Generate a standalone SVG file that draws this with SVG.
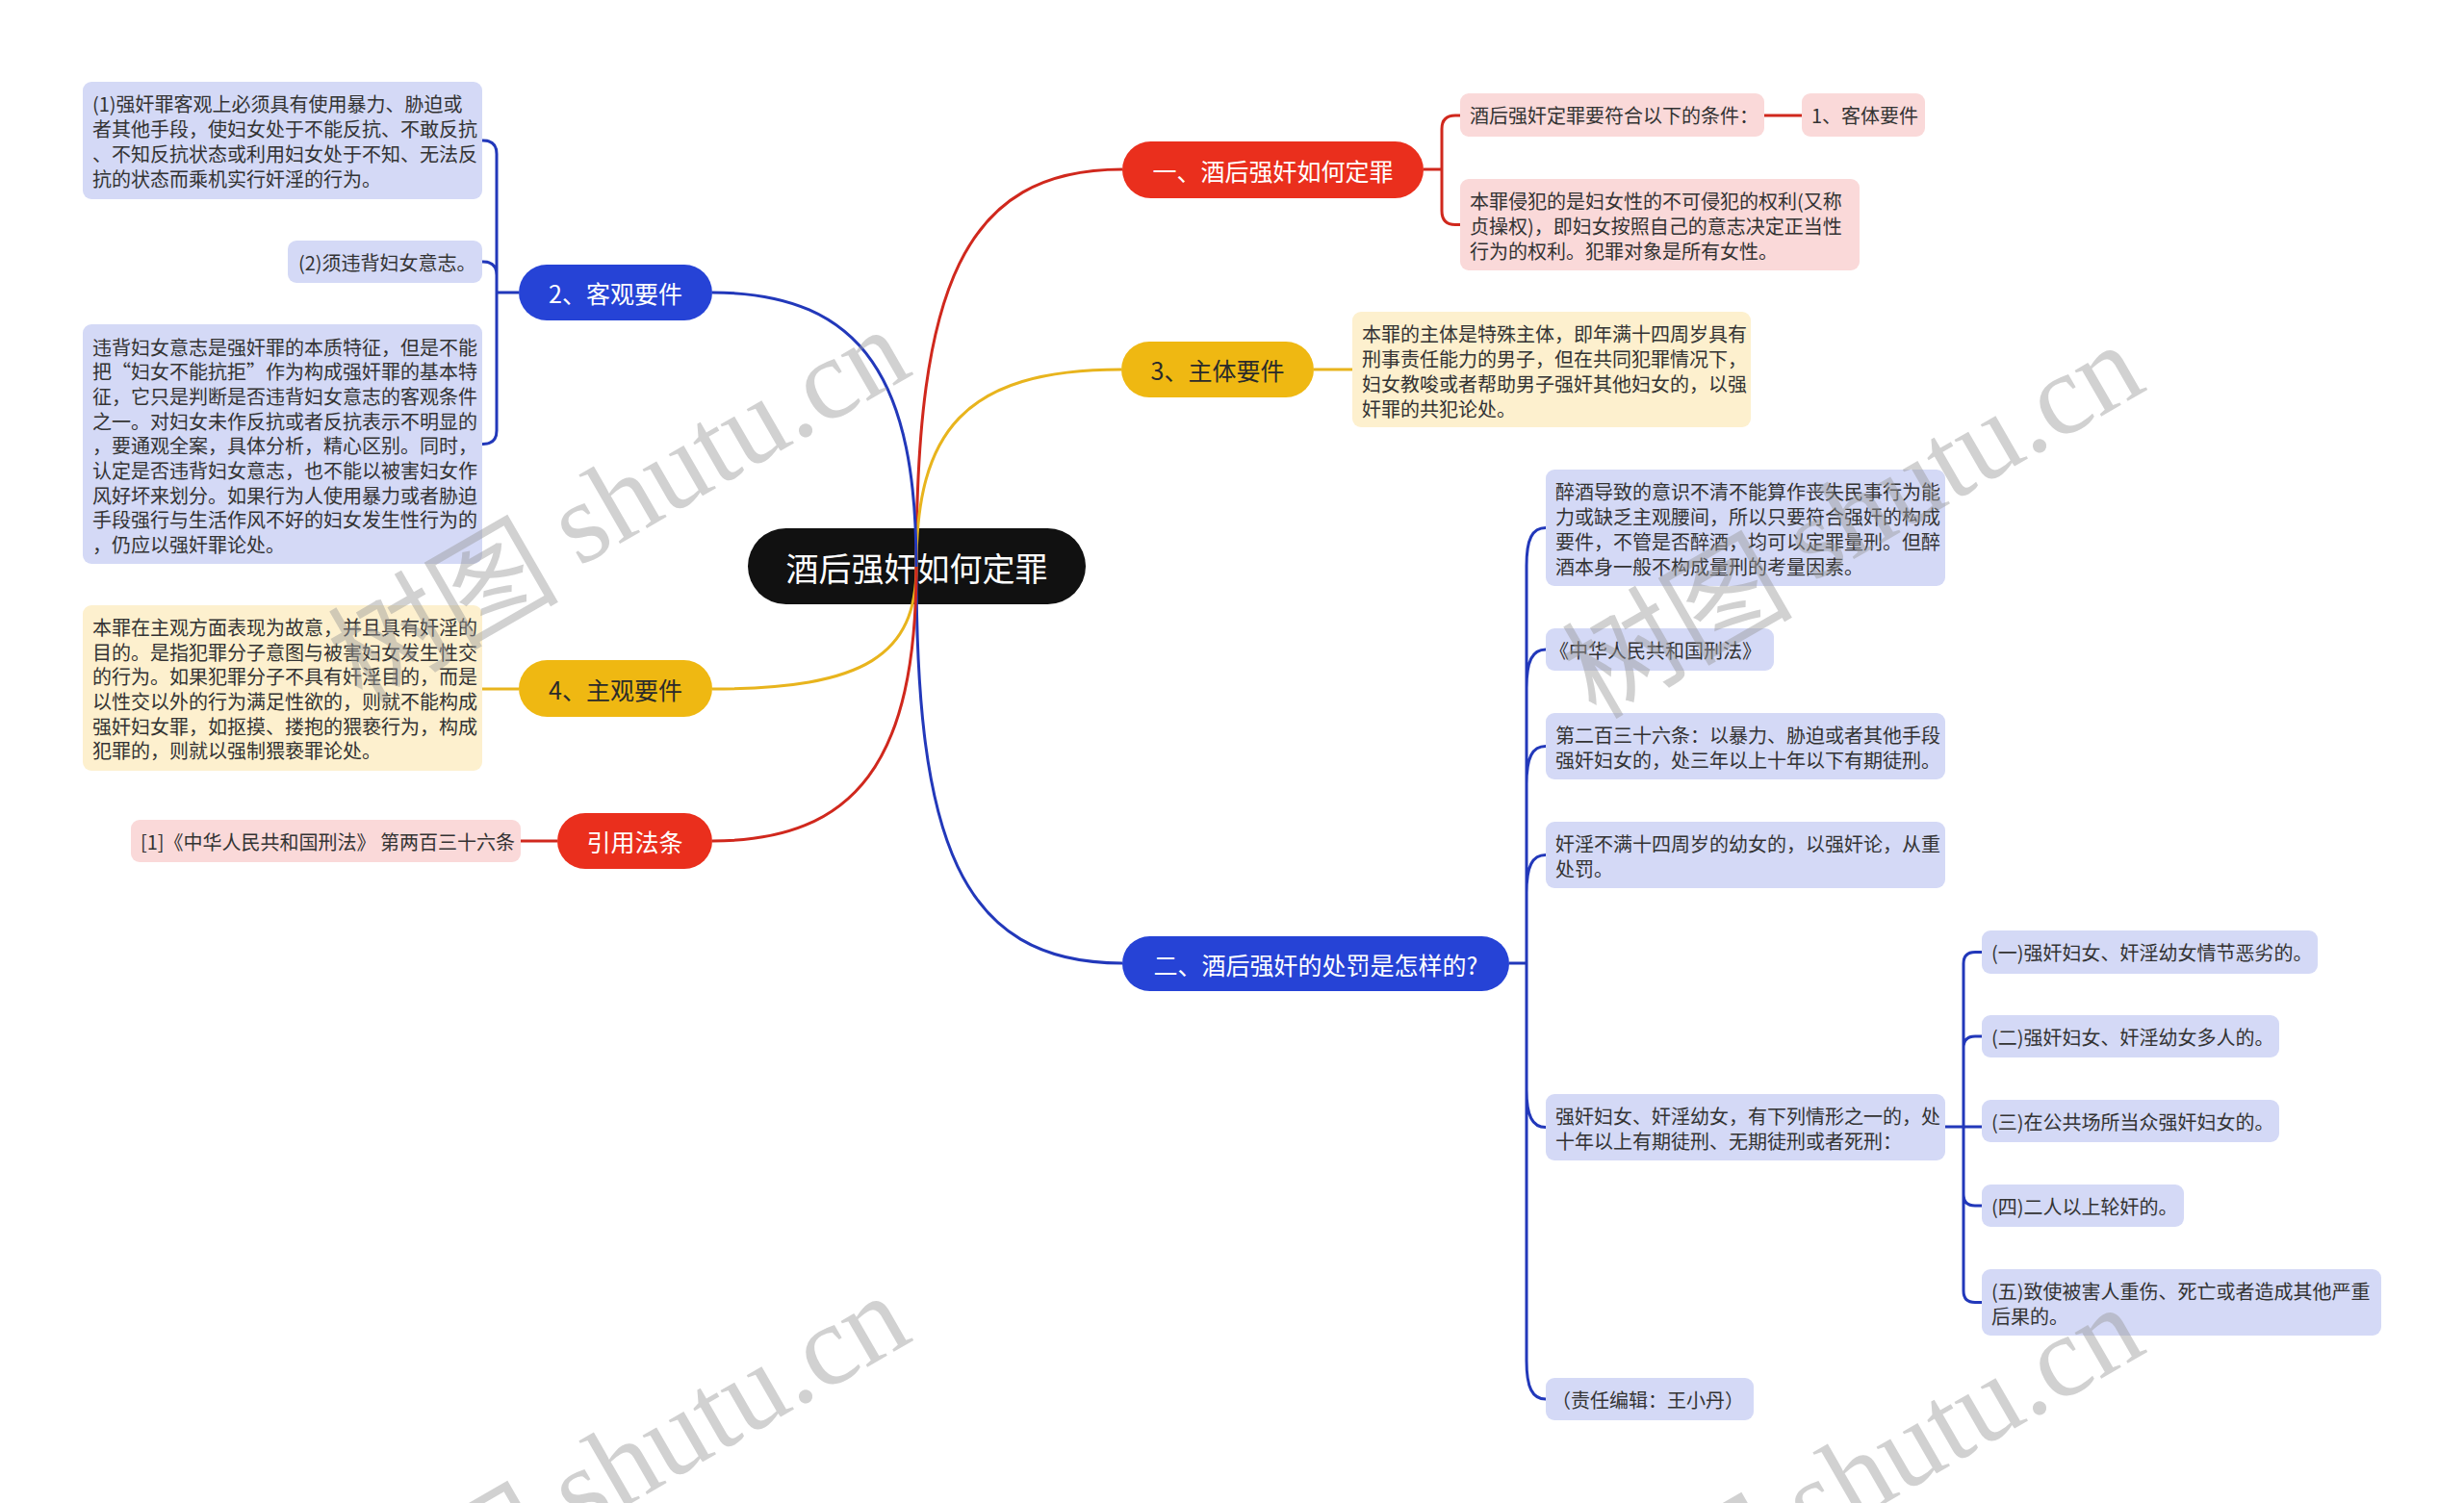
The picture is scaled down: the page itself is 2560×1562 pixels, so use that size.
<svg xmlns="http://www.w3.org/2000/svg" width="2560" height="1562" viewBox="0 0 2560 1562">
<style>
text{font-family:'Noto Sans CJK SC','Noto Sans',sans-serif;dominant-baseline:central}
tspan{dominant-baseline:central}
.root{fill:#111111}
.rn{fill:#EA2F1D}
.bn{fill:#2643D6}
.yn{fill:#EFB812}
.pk{fill:#FAD9D9}
.ly{fill:#FDF0CE}
.lb{fill:#D4D9F6}
.t1{fill:#ffffff;font-size:25px;text-anchor:middle}
.t1d{fill:#2a2a2a;font-size:25px;text-anchor:middle}
.t0{fill:#ffffff;font-size:34px;text-anchor:middle}
.tb{fill:#333333;font-size:20px}
.cr{fill:none;stroke:#D0281D;stroke-width:3}
.cb{fill:none;stroke:#2238BA;stroke-width:3}
.cy{fill:none;stroke:#E8B41D;stroke-width:3}
.wm{fill:#9a9a9a;opacity:0.45;font-size:120px}
</style>
<rect width="2560" height="1562" fill="#ffffff"/>

<g id="nodes">
<g id="root"><rect class="root" x="777" y="549" width="351" height="79" rx="39.5"/><text class="t0" x="952.5" y="589">酒后强奸如何定罪</text></g>

<g id="n-yi"><rect class="rn" x="1166" y="147" width="313" height="59" rx="29.5"/><text class="t1" x="1322.5" y="176.5">一、酒后强奸如何定罪</text></g>
<g id="n-yi-c1"><rect class="pk" x="1517" y="97" width="316" height="45" rx="9"/><text class="tb" x="1527" y="119.5">酒后强奸定罪要符合以下的条件：</text></g>
<g id="n-yi-c1a"><rect class="pk" x="1872" y="97" width="128" height="45" rx="9"/><text class="tb" x="1882" y="119.5">1、客体要件</text></g>
<g id="n-yi-c2"><rect class="pk" x="1517" y="186" width="415" height="95" rx="9"/><text class="tb"><tspan x="1527" y="207.5">本罪侵犯的是妇女性的不可侵犯的权利(又称</tspan><tspan x="1527" y="233.5">贞操权)，即妇女按照自己的意志决定正当性</tspan><tspan x="1527" y="259.5">行为的权利。犯罪对象是所有女性。</tspan></text></g>

<g id="n-3"><rect class="yn" x="1165" y="355" width="200" height="58" rx="29"/><text class="t1d" x="1265" y="384">3、主体要件</text></g>
<g id="n-3-c"><rect class="ly" x="1405" y="324" width="414" height="120" rx="9"/><text class="tb"><tspan x="1415" y="345.5">本罪的主体是特殊主体，即年满十四周岁具有</tspan><tspan x="1415" y="371.5">刑事责任能力的男子，但在共同犯罪情况下，</tspan><tspan x="1415" y="397.5">妇女教唆或者帮助男子强奸其他妇女的，以强</tspan><tspan x="1415" y="423.5">奸罪的共犯论处。</tspan></text></g>

<g id="n-er"><rect class="bn" x="1166" y="973" width="402" height="57" rx="28.5"/><text class="t1" x="1367" y="1001.5">二、酒后强奸的处罚是怎样的?</text></g>
<g id="n-er-a"><rect class="lb" x="1606" y="488" width="415" height="121" rx="9"/><text class="tb"><tspan x="1616" y="509.5">醉酒导致的意识不清不能算作丧失民事行为能</tspan><tspan x="1616" y="535.5">力或缺乏主观腰间，所以只要符合强奸的构成</tspan><tspan x="1616" y="561.5">要件，不管是否醉酒，均可以定罪量刑。但醉</tspan><tspan x="1616" y="587.5">酒本身一般不构成量刑的考量因素。</tspan></text></g>
<g id="n-er-b"><rect class="lb" x="1606" y="653" width="237" height="44" rx="9"/><text class="tb" x="1610" y="675">《中华人民共和国刑法》</text></g>
<g id="n-er-c"><rect class="lb" x="1606" y="741" width="415" height="69" rx="9"/><text class="tb"><tspan x="1616" y="762.5">第二百三十六条：以暴力、胁迫或者其他手段</tspan><tspan x="1616" y="788.5">强奸妇女的，处三年以上十年以下有期徒刑。</tspan></text></g>
<g id="n-er-d"><rect class="lb" x="1606" y="854" width="415" height="69" rx="9"/><text class="tb"><tspan x="1616" y="875.5">奸淫不满十四周岁的幼女的，以强奸论，从重</tspan><tspan x="1616" y="901.5">处罚。</tspan></text></g>
<g id="n-er-e"><rect class="lb" x="1606" y="1137" width="415" height="69" rx="9"/><text class="tb"><tspan x="1616" y="1158.5">强奸妇女、奸淫幼女，有下列情形之一的，处</tspan><tspan x="1616" y="1184.5">十年以上有期徒刑、无期徒刑或者死刑：</tspan></text></g>
<g id="n-er-f"><rect class="lb" x="1606" y="1432" width="216" height="44" rx="9"/><text class="tb" x="1612" y="1454">（责任编辑：王小丹）</text></g>
<g id="n-s1"><rect class="lb" x="2059" y="967" width="349" height="45" rx="9"/><text class="tb" x="2069" y="989.5">(一)强奸妇女、奸淫幼女情节恶劣的。</text></g>
<g id="n-s2"><rect class="lb" x="2059" y="1055" width="309" height="44" rx="9"/><text class="tb" x="2069" y="1077">(二)强奸妇女、奸淫幼女多人的。</text></g>
<g id="n-s3"><rect class="lb" x="2059" y="1143" width="309" height="44" rx="9"/><text class="tb" x="2069" y="1165">(三)在公共场所当众强奸妇女的。</text></g>
<g id="n-s4"><rect class="lb" x="2059" y="1231" width="210" height="44" rx="9"/><text class="tb" x="2069" y="1253">(四)二人以上轮奸的。</text></g>
<g id="n-s5"><rect class="lb" x="2059" y="1319" width="415" height="69" rx="9"/><text class="tb"><tspan x="2069" y="1340.5">(五)致使被害人重伤、死亡或者造成其他严重</tspan><tspan x="2069" y="1366.5">后果的。</tspan></text></g>

<g id="n-2"><rect class="bn" x="539" y="275" width="201" height="58" rx="29"/><text class="t1" x="639.5" y="304">2、客观要件</text></g>
<g id="n-2-k1"><rect class="lb" x="86" y="85" width="415" height="122" rx="9"/><text class="tb"><tspan x="96" y="107">(1)强奸罪客观上必须具有使用暴力、胁迫或</tspan><tspan x="96" y="133">者其他手段，使妇女处于不能反抗、不敢反抗</tspan><tspan x="96" y="159">、不知反抗状态或利用妇女处于不知、无法反</tspan><tspan x="96" y="185">抗的状态而乘机实行奸淫的行为。</tspan></text></g>
<g id="n-2-k2"><rect class="lb" x="299" y="250" width="202" height="44" rx="9"/><text class="tb" x="310" y="272">(2)须违背妇女意志。</text></g>
<g id="n-2-k3"><rect class="lb" x="86" y="337" width="415" height="249" rx="9"/><text class="tb"><tspan x="96" y="359.5">违背妇女意志是强奸罪的本质特征，但是不能</tspan><tspan x="96" y="385.2">把“妇女不能抗拒”作为构成强奸罪的基本特</tspan><tspan x="96" y="410.9">征，它只是判断是否违背妇女意志的客观条件</tspan><tspan x="96" y="436.6">之一。对妇女未作反抗或者反抗表示不明显的</tspan><tspan x="96" y="462.3">，要通观全案，具体分析，精心区别。同时，</tspan><tspan x="96" y="488">认定是否违背妇女意志，也不能以被害妇女作</tspan><tspan x="96" y="513.7">风好坏来划分。如果行为人使用暴力或者胁迫</tspan><tspan x="96" y="539.4">手段强行与生活作风不好的妇女发生性行为的</tspan><tspan x="96" y="565.1">，仍应以强奸罪论处。</tspan></text></g>

<g id="n-4"><rect class="yn" x="539" y="686" width="201" height="59" rx="29.5"/><text class="t1d" x="639.5" y="715.5">4、主观要件</text></g>
<g id="n-4-c"><rect class="ly" x="86" y="629" width="415" height="172" rx="9"/><text class="tb"><tspan x="96" y="650.8">本罪在主观方面表现为故意，并且具有奸淫的</tspan><tspan x="96" y="676.5">目的。是指犯罪分子意图与被害妇女发生性交</tspan><tspan x="96" y="702.2">的行为。如果犯罪分子不具有奸淫目的，而是</tspan><tspan x="96" y="727.9">以性交以外的行为满足性欲的，则就不能构成</tspan><tspan x="96" y="753.6">强奸妇女罪，如抠摸、搂抱的猥亵行为，构成</tspan><tspan x="96" y="779.3">犯罪的，则就以强制猥亵罪论处。</tspan></text></g>

<g id="n-ref"><rect class="rn" x="579" y="845" width="161" height="58" rx="29"/><text class="t1" x="659.5" y="874">引用法条</text></g>
<g id="n-ref-c"><rect class="pk" x="136" y="852" width="405" height="44" rx="9"/><text class="tb" x="146" y="874">[1]《中华人民共和国刑法》 第两百三十六条</text></g>
</g>

<g id="connectors">
<path class="cr" d="M952,589 C952,300 1000,176 1166,176"/>
<path class="cy" d="M952,589 C952,450 1000,384 1165,384"/>
<path class="cb" d="M952,589 C952,870 995,1001 1166,1001"/>
<path class="cb" d="M952,589 C952,400 900,304 740,304"/>
<path class="cy" d="M952,589 C952,680 900,716 740,716"/>
<path class="cr" d="M952,589 C952,790 890,874 740,874"/>

<path class="cr" d="M1479,176 H1498 M1498,176 V134 Q1498,120 1512,120 H1517 M1498,176 V219 Q1498,233.5 1512,233.5 H1517"/>
<path class="cr" d="M1833,120 H1872"/>
<path class="cy" d="M1365,384 H1405"/>

<path class="cb" d="M1568,1001 H1586 M1586,1001 V588 C1586,560 1592,548.5 1606,548.5 M1586,1001 V715 C1586,687 1592,675 1606,675 M1586,1001 V815 C1586,787 1592,775.5 1606,775.5 M1586,1001 V928 C1586,900 1592,888.5 1606,888.5 M1586,1001 V1132 C1586,1160 1592,1171.5 1606,1171.5 M1586,1001 V1414 C1586,1442 1592,1454 1606,1454"/>
<path class="cb" d="M2021,1171 H2059 M2040,1171 V1001.5 Q2040,989.5 2052,989.5 H2059 M2040,1171 V1089 Q2040,1077 2052,1077 H2059 M2040,1171 V1241 Q2040,1253 2052,1253 H2059 M2040,1171 V1341.5 Q2040,1353.5 2052,1353.5 H2059"/>

<path class="cb" d="M539,304 H516 M516,304 V160 Q516,146 502,146 H501 M516,304 V286 Q516,272 502,272 H501 M516,304 V447.5 Q516,461.5 502,461.5 H501"/>
<path class="cy" d="M539,716 H501"/>
<path class="cr" d="M579,874 H541"/>
</g>

<g id="watermark">
<text class="wm" transform="translate(640,520) rotate(-30)" text-anchor="middle"><tspan font-family="'Noto Sans CJK SC',sans-serif">树图 </tspan><tspan font-family="'Liberation Serif',serif">shutu.cn</tspan></text>
<text class="wm" transform="translate(1922,536) rotate(-30)" text-anchor="middle"><tspan font-family="'Noto Sans CJK SC',sans-serif">树图 </tspan><tspan font-family="'Liberation Serif',serif">shutu.cn</tspan></text>
<text class="wm" transform="translate(640,1524) rotate(-30)" text-anchor="middle"><tspan font-family="'Noto Sans CJK SC',sans-serif">树图 </tspan><tspan font-family="'Liberation Serif',serif">shutu.cn</tspan></text>
<text class="wm" transform="translate(1922,1536) rotate(-30)" text-anchor="middle"><tspan font-family="'Noto Sans CJK SC',sans-serif">树图 </tspan><tspan font-family="'Liberation Serif',serif">shutu.cn</tspan></text>
</g>
</svg>
